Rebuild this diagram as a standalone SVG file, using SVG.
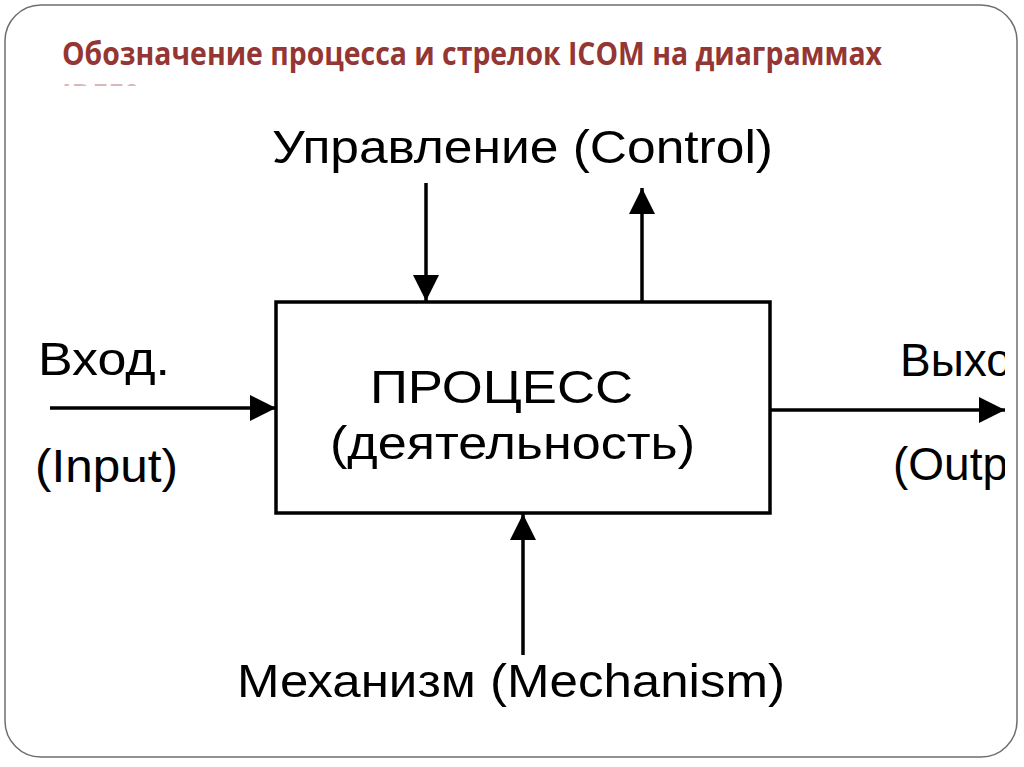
<svg xmlns="http://www.w3.org/2000/svg" width="1024" height="767" viewBox="0 0 1024 767">
<style>
.title{font-family:"Open Sans","Liberation Sans",sans-serif;font-weight:bold;font-size:32px;fill:#943634}
.lbl{font-family:"Liberation Sans",Arial,sans-serif;font-size:46px;fill:#000}
.ln{stroke:#000;stroke-width:3.5;fill:none}
</style>
<defs>
<marker id="ah" markerUnits="userSpaceOnUse" markerWidth="27" markerHeight="27" refX="26" refY="13" orient="auto">
<path d="M0,0 L26,13 L0,26 z" fill="#000"/>
</marker>
<clipPath id="sub"><rect x="0" y="0" width="1024" height="86"/></clipPath>
<clipPath id="img"><rect x="0" y="84" width="1005" height="680"/></clipPath>
</defs>
<rect x="0" y="0" width="1024" height="767" fill="#fff"/>
<rect x="5" y="5" width="1012" height="752" rx="36" ry="36" fill="#fff" stroke="#6e6e6e" stroke-width="1.5"/>
<text class="title" x="62" y="65" textLength="820" lengthAdjust="spacingAndGlyphs">Обозначение процесса и стрелок ICOM на диаграммах</text>
<g clip-path="url(#sub)" opacity="0.35"><text class="title" x="62" y="107" textLength="78" lengthAdjust="spacingAndGlyphs">IDEF0</text></g>
<g clip-path="url(#img)">
<g id="connectors">
<path class="ln" d="M426,183 L426,301" marker-end="url(#ah)"/>
<path class="ln" d="M642,301 L642,188" marker-end="url(#ah)"/>
<path class="ln" d="M50,408 L276,408" marker-end="url(#ah)"/>
<path class="ln" d="M770,410 L1005,410" marker-end="url(#ah)"/>
<path class="ln" d="M523,655 L523,514" marker-end="url(#ah)"/>
</g>
<g id="process">
<rect x="276" y="302" width="494" height="211" fill="none" stroke="#000" stroke-width="3.5"/>
<text class="lbl" x="370" y="403" textLength="263" lengthAdjust="spacingAndGlyphs">ПРОЦЕСС</text>
<text class="lbl" x="330" y="459" textLength="365" lengthAdjust="spacingAndGlyphs">(деятельность)</text>
</g>
<g id="control"><text class="lbl" x="272" y="163" textLength="501" lengthAdjust="spacingAndGlyphs">Управление (Control)</text></g>
<g id="input">
<text class="lbl" x="38" y="375" textLength="132" lengthAdjust="spacingAndGlyphs">Вход.</text>
<text class="lbl" x="35" y="482" textLength="143" lengthAdjust="spacingAndGlyphs">(Input)</text>
</g>
<g id="output">
<text class="lbl" x="900" y="376">Выход.</text>
<text class="lbl" x="893" y="480">(Output)</text>
</g>
<g id="mechanism"><text class="lbl" x="237" y="697" textLength="548" lengthAdjust="spacingAndGlyphs">Механизм (Mechanism)</text></g>
</g>
</svg>
